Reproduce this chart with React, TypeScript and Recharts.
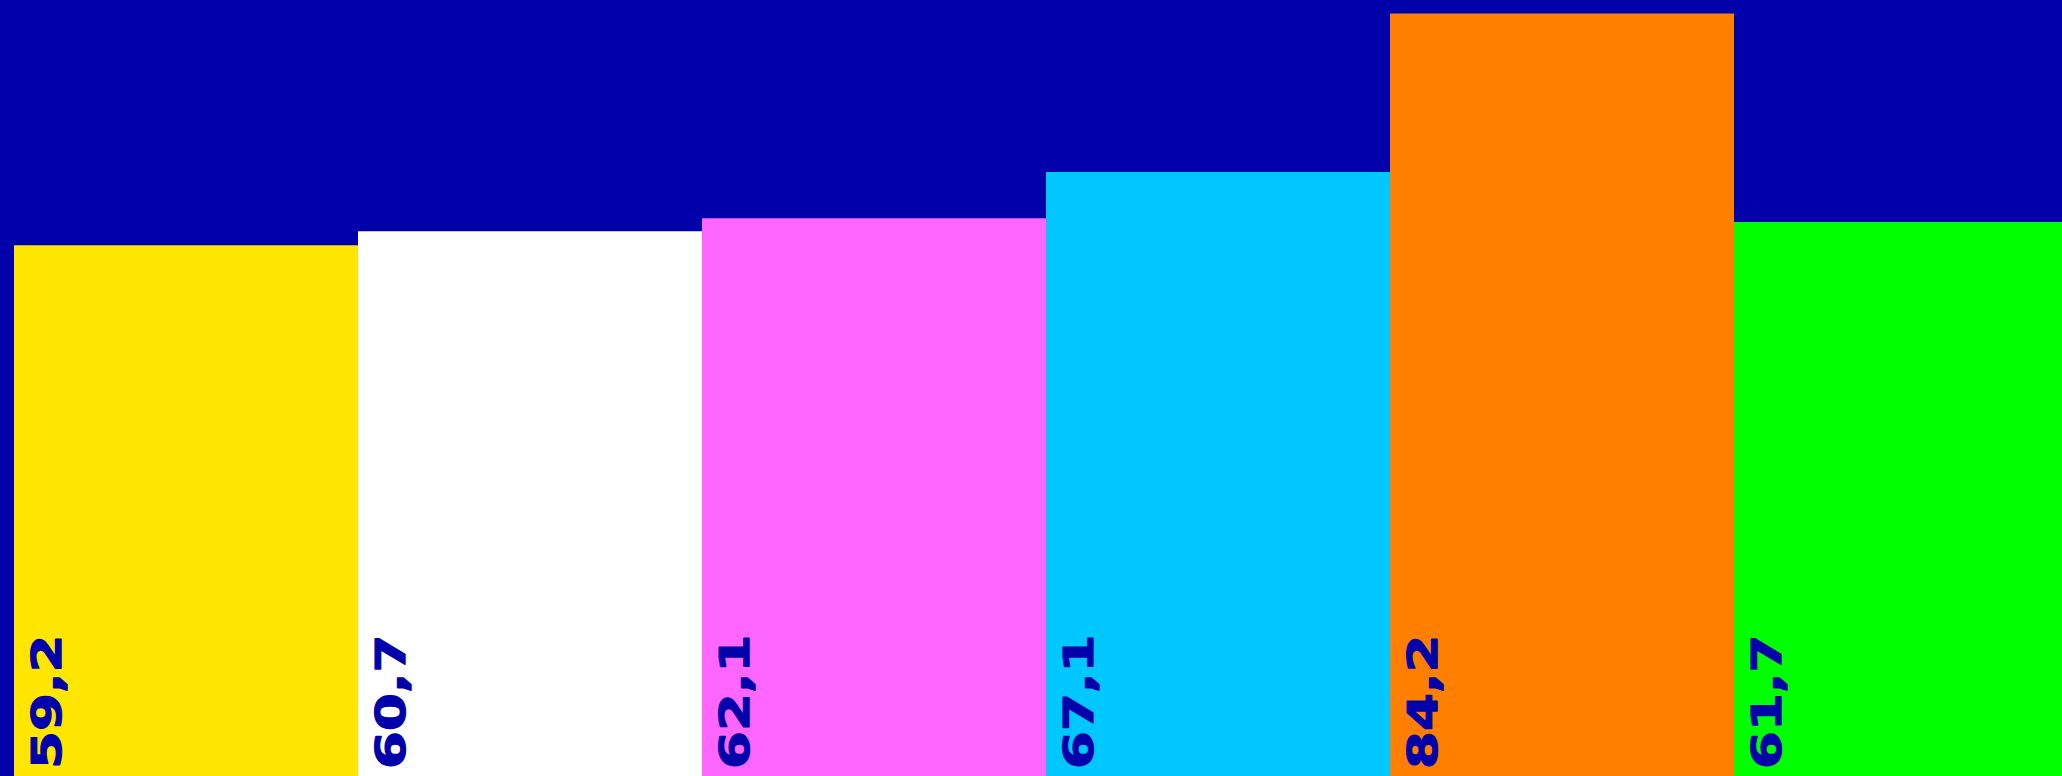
import { BarChart, Bar, XAxis, YAxis, Cell, LabelList } from 'recharts';

const categories = ['A', 'B', 'C', 'D', 'E', 'F'];
const values = [59.2, 60.7, 62.1, 67.1, 84.2, 61.7];
const barColors = ['#FFE600', '#FFFFFF', '#FF66FF', '#00C8FF', '#FF8000', '#00FF00'];

const data = categories.map((name, i) => ({ name, value: values[i] }));

const NAVY = '#0000AA';

// vertical, stretched value label sitting near the foot of each bar
function ValueLabel(props: any) {
  const { x, y, width, height, value } = props;
  if (x == null || width == null) return null;
  const tx = Number(x) + 47;
  const ty = Number(y) + Number(height) - 25;
  return (
    <text
      x={0}
      y={0}
      transform={`translate(${tx},${ty}) rotate(-90) scale(1.33,1)`}
      fill={NAVY}
      stroke={NAVY}
      strokeWidth={1.2}
      strokeLinejoin="round"
      fontFamily="DejaVu Sans"
      fontWeight="bold"
      fontSize={41}
      textAnchor="start"
    >
      {String(value).replace('.', ',')}
    </text>
  );
}

export default function App() {
  return (
    <div
      style={{
        position: 'fixed',
        left: 0,
        top: 0,
        width: 2062,
        height: 776,
        overflow: 'hidden',
        background: NAVY,
      }}
    >
      <BarChart
        width={2078}
        height={800}
        data={data}
        margin={{ top: 6, right: 0, bottom: 6, left: 14 }}
        barCategoryGap={0}
        barGap={0}
      >
        <XAxis dataKey="name" hide />
        <YAxis hide domain={[0, 85]} />
        <Bar dataKey="value" isAnimationActive={false}>
          {data.map((d, i) => (
            <Cell key={d.name} fill={barColors[i]} />
          ))}
          <LabelList dataKey="value" content={<ValueLabel />} />
        </Bar>
      </BarChart>
    </div>
  );
}
